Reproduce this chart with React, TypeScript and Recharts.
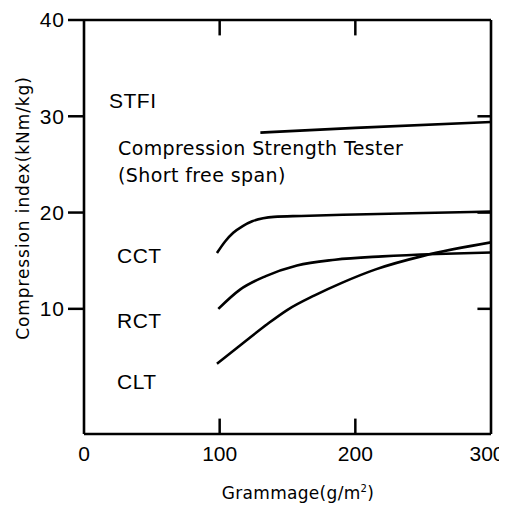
import { LineChart, Line, XAxis, YAxis, ReferenceLine } from "recharts";

// tick labels
const xTicks = [0, 100, 200, 300];
const yTicks = [10, 20, 30, 40];

// grammage (g/m2) and compression index (kNm/kg) per test
const stfiGrammage = [130, 200, 300];
const stfiIndex = [28.3, 28.8, 29.4];

const cctGrammage = [98, 104, 110, 117, 124, 132, 140, 160, 200, 250, 300];
const cctIndex = [15.8, 17.0, 17.9, 18.6, 19.1, 19.4, 19.55, 19.65, 19.8, 19.95, 20.1];

const rctGrammage = [99, 115, 134, 157, 185, 220, 260, 300];
const rctIndex = [10.0, 12.0, 13.4, 14.5, 15.1, 15.45, 15.7, 15.85];

const cltGrammage = [98, 115, 135, 150, 170, 190, 215, 250, 300];
const cltIndex = [4.3, 6.2, 8.4, 9.9, 11.4, 12.7, 14.1, 15.5, 16.9];

const toPoints = (xs: number[], ys: number[]) => xs.map((g, i) => ({ g, v: ys[i] }));

const ink = "#000";
const sans = "'Liberation Sans', Arial, sans-serif";
const wide = "'DejaVu Sans', sans-serif";

const xDomain = [0, 300];
const yDomain = [-3, 40];
// inward tick length, in axis units
const xTickLen = 1.6;
const yTickLen = 10;

function BottomTick(props: any) {
  const { x, y, payload } = props;
  const v = payload.value;
  return (
    <text x={v === 300 ? x - 4 : x} y={y} dy="0.71em" textAnchor="middle" fill={ink} fontSize={21} fontFamily={sans}>
      {v}
    </text>
  );
}

const axisLine = { stroke: ink, strokeWidth: 2.6 };
const tickLine = { stroke: ink, strokeWidth: 2.5 };
const innerTick = { stroke: ink, strokeWidth: 2.5, ifOverflow: "visible" as const };

export default function App() {
  const innerX = xTicks.filter((t) => t > xDomain[0] && t < xDomain[1]);
  const innerY = yTicks.filter((t) => t > yDomain[0] && t < yDomain[1]);
  return (
    <div style={{ margin: -8, width: 507, height: 515, overflow: "hidden" }}>
      <LineChart width={507} height={515} margin={{ top: 19, right: 15, bottom: 41, left: 24 }}>
        <XAxis
          xAxisId="bottom"
          type="number"
          dataKey="g"
          domain={xDomain}
          ticks={xTicks}
          interval={0}
          height={40}
          tickSize={0}
          tickMargin={12}
          tickLine={false}
          axisLine={axisLine}
          tick={<BottomTick />}
          allowDataOverflow
        />
        <XAxis
          xAxisId="top"
          orientation="top"
          type="number"
          dataKey="g"
          domain={xDomain}
          height={1}
          tickLine={false}
          axisLine={axisLine}
          tick={false}
          allowDataOverflow
        />
        <YAxis
          yAxisId="left"
          type="number"
          domain={yDomain}
          ticks={yTicks}
          interval={0}
          width={60}
          tickSize={16}
          tickMargin={3}
          tickLine={tickLine}
          axisLine={axisLine}
          tick={{ fill: ink, fontSize: 21, fontFamily: sans, letterSpacing: 1 }}
          allowDataOverflow
        />
        <YAxis
          yAxisId="right"
          orientation="right"
          type="number"
          domain={yDomain}
          width={1}
          tickLine={false}
          axisLine={axisLine}
          tick={false}
          allowDataOverflow
        />
        {innerX.map((t) => (
          <ReferenceLine
            key={`b${t}`}
            xAxisId="bottom"
            yAxisId="left"
            segment={[{ x: t, y: yDomain[0] }, { x: t, y: yDomain[0] + xTickLen }]}
            {...innerTick}
          />
        ))}
        {innerX.map((t) => (
          <ReferenceLine
            key={`t${t}`}
            xAxisId="bottom"
            yAxisId="left"
            segment={[{ x: t, y: yDomain[1] }, { x: t, y: yDomain[1] - xTickLen }]}
            {...innerTick}
          />
        ))}
        {innerY.map((t) => (
          <ReferenceLine
            key={`r${t}`}
            xAxisId="bottom"
            yAxisId="left"
            segment={[{ x: xDomain[1], y: t }, { x: xDomain[1] - yTickLen, y: t }]}
            {...innerTick}
          />
        ))}
        {[
          ["stfi", stfiGrammage, stfiIndex],
          ["cct", cctGrammage, cctIndex],
          ["rct", rctGrammage, rctIndex],
          ["clt", cltGrammage, cltIndex],
        ].map(([name, xs, ys]) => (
          <Line
            key={name as string}
            xAxisId="bottom"
            yAxisId="left"
            data={toPoints(xs as number[], ys as number[])}
            dataKey="v"
            type="monotone"
            stroke={ink}
            strokeWidth={2.6}
            dot={false}
            activeDot={false}
            isAnimationActive={false}
          />
        ))}
        <g fill={ink}>
          <text x={109} y={108} fontSize={21} fontFamily={sans} letterSpacing={0.5}>STFI</text>
          <text x={118} y={155} fontSize={19} fontFamily={wide} letterSpacing={0.4}>Compression Strength Tester</text>
          <text x={118} y={182} fontSize={19} fontFamily={wide} letterSpacing={0.4}>(Short free span)</text>
          <text x={117} y={263} fontSize={21} fontFamily={sans} letterSpacing={0.5}>CCT</text>
          <text x={117} y={328} fontSize={21} fontFamily={sans} letterSpacing={0.5}>RCT</text>
          <text x={117} y={389} fontSize={21} fontFamily={sans} letterSpacing={0.5}>CLT</text>
          <text x={298} y={499} textAnchor="middle" fontSize={17} fontFamily={wide} letterSpacing={0.3}>
            Grammage(g/m<tspan fontSize={10} dy={-7}>2</tspan><tspan dy={7}>)</tspan>
          </text>
          <text
            x={0}
            y={0}
            transform="translate(29 208) rotate(-90)"
            textAnchor="middle"
            fontSize={17}
            fontFamily={wide}
            letterSpacing={0.9}
          >
            Compression index(kNm/kg)
          </text>
        </g>
      </LineChart>
    </div>
  );
}
